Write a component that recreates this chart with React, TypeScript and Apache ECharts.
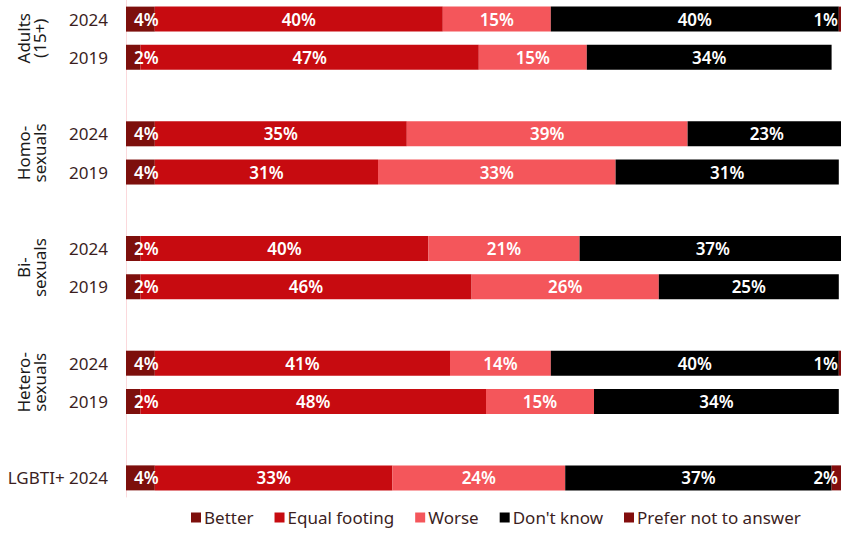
import React, { useEffect, useRef } from "react";
import * as echarts from "echarts";

const rowLabels = ["2024", "2019", "2024", "2019", "2024", "2019", "2024", "2019", "LGBTI+ 2024"];
const groupBreaks = [2, 4, 6, 8]; // a blank row is inserted before these row indices
const groupNames = ["Adults\n(15+)", "Homo-\nsexuals", "Bi-\nsexuals", "Hetero-\nsexuals"];
const groupRows = [[0, 1], [2, 3], [4, 5], [6, 7]];

const seriesNames = ["Better", "Equal footing", "Worse", "Don't know", "Prefer not to answer"];
const better = [4, 2, 4, 4, 2, 2, 4, 2, 4];
const equalFooting = [40, 47, 35, 31, 40, 46, 41, 48, 33];
const worse = [15, 15, 39, 33, 21, 26, 14, 15, 24];
const dontKnow = [40, 34, 23, 31, 37, 25, 40, 34, 37];
const preferNot = [1, 0, 0, 0, 0, 0, 1, 0, 2];

const colors = ["#7d0f0c", "#c70b10", "#f4565b", "#000000", "#820d0d"];
const FONT = "Noto Sans";
const TEXT = "#3b1e1e";

function expand<T>(arr: T[], blank: T): T[] {
  const out: T[] = [];
  arr.forEach((v, i) => {
    if (groupBreaks.includes(i)) out.push(blank);
    out.push(v);
  });
  return out;
}

export default function App() {
  const ref = useRef<HTMLDivElement>(null);
  useEffect(() => {
    if (!ref.current) return;
    const chart = echarts.init(ref.current, null, { renderer: "svg" });
    const cats = expand(rowLabels, "");
    const values = [better, equalFooting, worse, dontKnow, preferNot];
    const series = values.map((arr, si) => {
      let pos: any = "inside";
      let dist = 5;
      if (si === 0) { pos = "insideLeft"; dist = 8; }
      if (si === 4) { pos = "insideRight"; dist = 8; }
      return {
        name: seriesNames[si],
        type: "bar",
        stack: "all",
        barWidth: 25,
        itemStyle: { color: colors[si] },
        data: expand(arr.map((v) => (v ? v : null)), null),
        label: {
          show: true,
          position: pos,
          distance: dist,
          color: "#ffffff",
          fontFamily: FONT,
          fontSize: 17,
          fontWeight: 600,
          formatter: (p: any) => (p.value ? p.value + "%" : ""),
        },
      };
    });
    chart.setOption({
      animation: false,
      textStyle: { fontFamily: FONT },
      grid: { left: 126, width: 720, top: 0, height: 497, containLabel: false, outerBoundsMode: "none" },
      xAxis: { type: "value", min: 0, max: 100, show: false },
      yAxis: {
        type: "category",
        inverse: true,
        data: cats,
        axisTick: { show: false },
        axisLine: { show: true, lineStyle: { color: "#fbd9dc", width: 1 } },
        axisLabel: { color: TEXT, fontSize: 17, fontFamily: FONT, margin: 18 },
        splitLine: { show: false },
      },
      legend: {
        bottom: 2,
        left: 186,
        icon: "rect",
        itemWidth: 10,
        itemHeight: 10,
        itemGap: 21,
        textStyle: { color: TEXT, fontSize: 17, fontFamily: FONT, padding: [0, 0, 0, -2] },
        data: seriesNames,
      },
      series,
    });
    const graphics = groupNames.map((name, gi) => {
      const [a, b] = groupRows[gi];
      const ia = a + groupBreaks.filter((x) => x <= a).length;
      const ib = b + groupBreaks.filter((x) => x <= b).length;
      const ya = chart.convertToPixel({ yAxisIndex: 0 }, ia) as number;
      const yb = chart.convertToPixel({ yAxisIndex: 0 }, ib) as number;
      return {
        type: "text",
        x: 31,
        y: (ya + yb) / 2,
        rotation: Math.PI / 2,
        style: {
          text: name,
          fill: "#1a1a1a",
          font: `17px "${FONT}"`,
          align: "center",
          verticalAlign: "middle",
          lineHeight: 16,
        },
      };
    });
    chart.setOption({ graphic: graphics });
    return () => chart.dispose();
  }, []);
  return (
    <div
      ref={ref}
      style={{ position: "absolute", left: 0, top: 0, width: 841, height: 533, background: "#fff" }}
    />
  );
}
